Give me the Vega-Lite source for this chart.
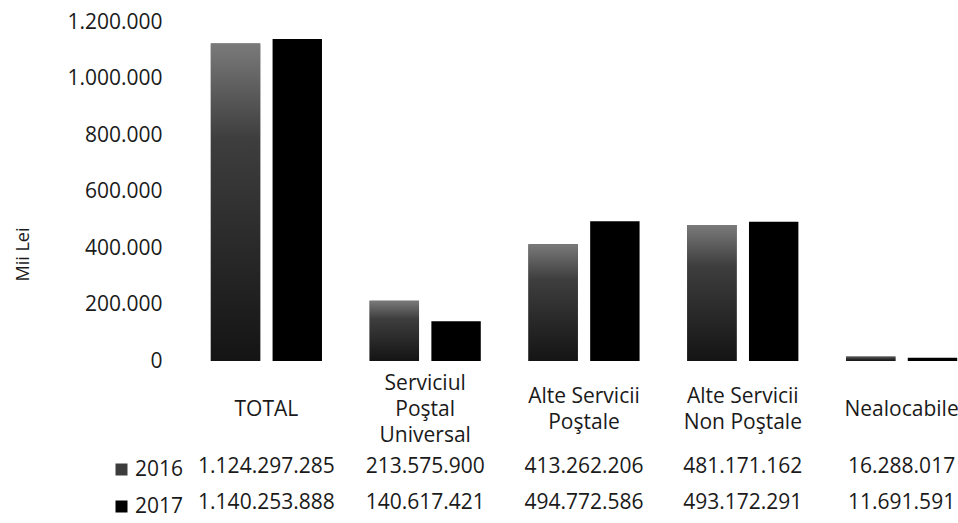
{
  "$schema": "https://vega.github.io/schema/vega-lite/v6.json",
  "width": 771,
  "height": 339,
  "autosize": {"type": "none"},
  "padding": {"left": 187, "top": 22, "right": 0, "bottom": 162},
  "background": "white",
  "config": {
    "locale": {"number": {"decimal": ",", "thousands": ".", "grouping": [3], "currency": ["", ""]}},
    "font": "Open Sans",
    "view": {"stroke": null}
  },
  "data": {
    "values": [
      {"cat": "TOTAL", "year": "2016", "value": 1124297285},
      {"cat": "TOTAL", "year": "2017", "value": 1140253888},
      {"cat": "Serviciul Poştal Universal", "year": "2016", "value": 213575900},
      {"cat": "Serviciul Poştal Universal", "year": "2017", "value": 140617421},
      {"cat": "Alte Servicii Poştale", "year": "2016", "value": 413262206},
      {"cat": "Alte Servicii Poştale", "year": "2017", "value": 494772586},
      {"cat": "Alte Servicii Non Poştale", "year": "2016", "value": 481171162},
      {"cat": "Alte Servicii Non Poştale", "year": "2017", "value": 493172291},
      {"cat": "Nealocabile", "year": "2016", "value": 16288017},
      {"cat": "Nealocabile", "year": "2017", "value": 11691591}
    ]
  },
  "encoding": {
    "x": {
      "field": "cat",
      "type": "nominal",
      "sort": ["TOTAL", "Serviciul Poştal Universal", "Alte Servicii Poştale", "Alte Servicii Non Poştale", "Nealocabile"],
      "scale": {"range": [0, 794], "paddingInner": 0.3, "paddingOuter": 0.15},
      "axis": {
        "title": null,
        "domain": false,
        "ticks": false,
        "labelAngle": 0,
        "labelFontSize": 21,
        "labelColor": "#1a1a1a",
        "labelLineHeight": 26,
        "labelBaseline": "middle",
        "labelPadding": {
          "condition": [
            {"test": "datum.value == 'Serviciul Poştal Universal'", "value": 22},
            {"test": "datum.value == 'Alte Servicii Poştale' || datum.value == 'Alte Servicii Non Poştale'", "value": 35}
          ],
          "value": 48
        },
        "labelLimit": 300,
        "labelExpr": "datum.value == 'Serviciul Poştal Universal' ? ['Serviciul', 'Poştal', 'Universal'] : datum.value == 'Alte Servicii Poştale' ? ['Alte Servicii', 'Poştale'] : datum.value == 'Alte Servicii Non Poştale' ? ['Alte Servicii', 'Non Poştale'] : datum.value"
      }
    }
  },
  "layer": [
    {
      "mark": {"type": "bar"},
      "encoding": {
        "xOffset": {"field": "year", "type": "nominal", "scale": {"domain": ["2016", "2017"], "paddingInner": 0.2, "paddingOuter": 0}},
        "y": {
          "field": "value",
          "type": "quantitative",
          "scale": {"domain": [0, 1200000000], "nice": false},
          "axis": {
            "title": "Mii Lei",
            "titleFontSize": 18,
            "titleFontWeight": "normal",
            "titleColor": "#1a1a1a",
            "titlePadding": 34,
            "titleY": 232,
            "values": [0, 200000000, 400000000, 600000000, 800000000, 1000000000, 1200000000],
            "labelExpr": "format(datum.value / 1000, ',')",
            "labelFontSize": 21,
            "labelColor": "#1a1a1a",
            "labelPadding": 25,
            "domain": false,
            "ticks": false,
            "grid": false
          }
        },
        "color": {
          "field": "year",
          "type": "nominal",
          "scale": {"domain": ["2016", "2017"], "range": ["#3c3c3c", "#000000"]},
          "legend": {
            "orient": "none",
            "legendX": -76,
            "legendY": 437,
            "direction": "vertical",
            "title": null,
            "symbolType": "square",
            "symbolSize": 144,
            "symbolStrokeWidth": 0,
            "labelFontSize": 21,
            "labelColor": "#1a1a1a",
            "labelOffset": 3,
            "rowPadding": 15
          }
        }
      }
    },
    {
      "transform": [{"filter": "datum.year == '2016'"}],
      "mark": {
        "type": "bar",
        "fill": {
          "gradient": "linear",
          "x1": 0, "y1": 0, "x2": 0, "y2": 1,
          "stops": [
            {"offset": 0, "color": "#7a7a7a"},
            {"offset": 0.3, "color": "#3e3e3e"},
            {"offset": 1, "color": "#141414"}
          ]
        }
      },
      "encoding": {
        "xOffset": {"field": "year", "type": "nominal"},
        "y": {"field": "value", "type": "quantitative"}
      }
    },
    {
      "transform": [{"filter": "datum.year == '2016'"}],
      "mark": {"type": "text", "fontSize": 21, "color": "#1a1a1a", "baseline": "middle", "dy": 106},
      "encoding": {
        "y": {"datum": 0, "type": "quantitative"},
        "text": {"field": "value", "type": "quantitative", "format": ","}
      }
    },
    {
      "transform": [{"filter": "datum.year == '2017'"}],
      "mark": {"type": "text", "fontSize": 21, "color": "#1a1a1a", "baseline": "middle", "dy": 142},
      "encoding": {
        "y": {"datum": 0, "type": "quantitative"},
        "text": {"field": "value", "type": "quantitative", "format": ","}
      }
    }
  ]
}
